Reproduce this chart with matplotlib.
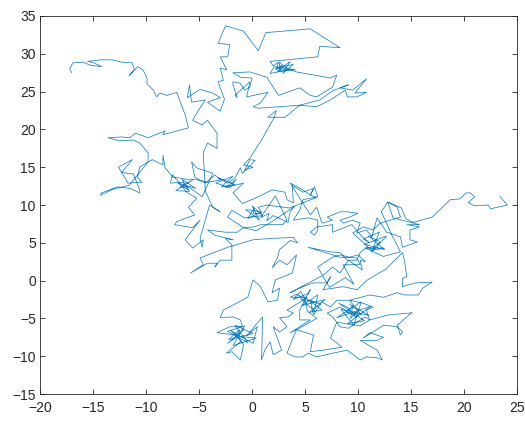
import matplotlib
matplotlib.use("Agg")
import matplotlib.pyplot as plt
import numpy as np

# 2-D walk, stored in stretches that follow each other along the path
arc_upper_left = [
    (-17.0, 27.5), (-17.2, 28.0), (-16.9, 28.8), (-15.9, 28.9), (-15.3, 28.5),
    (-14.2, 28.3), (-14.9, 28.8), (-15.5, 29.0), (-14.3, 29.2), (-13.2, 29.2),
    (-12.3, 28.9), (-11.3, 28.8), (-11.1, 27.9), (-11.6, 27.1), (-10.8, 28.3),
    (-10.3, 27.9), (-9.9, 26.8), (-9.9, 26.0), (-9.3, 25.2), (-9.0, 24.3),
    (-8.7, 24.8), (-8.0, 24.5), (-7.1, 24.9), (-6.7, 23.4), (-6.3, 21.9),
    (-6.0, 20.2),
]

left_band = [
    (-8.4, 19.3), (-8.2, 19.8), (-9.8, 18.9), (-11.0, 19.5), (-11.5, 18.9),
    (-12.3, 19.0), (-13.6, 18.9), (-12.5, 18.5), (-11.2, 18.6), (-10.6, 18.2),
    (-9.8, 16.9), (-9.8, 15.7), (-10.6, 15.0), (-10.8, 13.7), (-10.4, 13.0),
    (-11.7, 12.9), (-12.0, 13.6), (-12.6, 15.0), (-11.3, 16.0), (-12.3, 14.3),
    (-11.2, 14.1), (-10.6, 12.0), (-10.6, 11.6), (-11.5, 12.2), (-12.7, 12.4),
    (-14.2, 11.6), (-14.3, 11.3), (-13.1, 12.1), (-11.6, 12.6), (-10.5, 14.5),
    (-9.8, 15.7), (-9.4, 16.0), (-8.4, 15.3), (-8.4, 16.6), (-8.2, 14.9),
    (-8.0, 14.6), (-7.5, 13.7), (-6.1, 13.4), (-5.4, 13.4), (-4.2, 13.0),
    (-3.0, 13.3),
]

mid_left = [
    (-3.5, 14.0), (-4.4, 12.9), (-5.4, 13.7), (-5.7, 15.7), (-5.2, 14.9),
    (-3.7, 14.2), (-4.7, 11.1), (-6.0, 12.4), (-6.8, 12.4), (-5.6, 13.3),
    (-7.2, 11.9), (-5.9, 11.8), (-6.6, 13.4), (-5.3, 12.2), (-7.0, 12.9),
    (-6.0, 12.0), (-6.5, 13.0), (-7.7, 12.9), (-7.5, 14.0), (-6.1, 11.6),
    (-5.2, 10.9), (-6.0, 9.7), (-5.4, 8.7), (-7.1, 7.8), (-7.3, 7.4),
    (-5.6, 7.0), (-4.9, 8.0), (-6.3, 5.4), (-5.6, 4.3), (-4.6, 5.4),
    (-4.7, 4.4), (-4.9, 5.6), (-4.0, 10.0), (-3.0, 9.1), (-3.7, 9.7),
    (-4.4, 11.8), (-4.6, 16.9), (-4.2, 18.2), (-3.3, 17.5), (-3.3, 19.5),
    (-4.2, 21.2), (-4.7, 20.6), (-5.6, 21.2), (-5.2, 22.2), (-4.4, 23.9),
    (-5.7, 23.6), (-5.9, 25.9), (-6.1, 24.2), (-4.9, 25.3), (-3.7, 24.8),
    (-3.0, 24.2), (-4.2, 23.6), (-3.0, 22.4), (-2.6, 24.0), (-3.2, 26.3),
]

top_cluster = [
    (-2.7, 26.5), (-3.0, 28.1), (-2.4, 27.9), (-3.0, 29.6), (-2.3, 29.6),
    (-2.1, 31.2), (-3.2, 31.4), (-2.5, 33.7), (-0.8, 33.0), (0.6, 30.4),
    (1.3, 32.8), (5.5, 33.3), (7.4, 31.6), (8.3, 30.8), (6.4, 31.0),
    (6.2, 29.6), (3.3, 29.2), (1.7, 29.0), (2.0, 28.4), (2.5, 28.9),
    (2.3, 27.9), (2.8, 28.5), (2.6, 27.6), (2.6, 28.9), (3.4, 27.9),
    (2.2, 28.1), (3.9, 28.6), (2.9, 27.4), (3.6, 29.0), (2.4, 27.7),
    (4.1, 27.9), (2.1, 28.3), (1.7, 27.4), (3.6, 27.9), (4.2, 27.6),
    (7.4, 26.8), (8.0, 27.2), (7.6, 25.6), (6.1, 24.3), (5.5, 24.5),
    (4.5, 25.5), (2.5, 24.5), (1.4, 26.9), (-0.2, 27.6), (-1.8, 27.5),
    (-1.1, 26.9), (0.0, 26.8), (-0.2, 25.6), (-0.7, 25.2), (-1.1, 26.1),
    (-1.8, 26.3), (-1.8, 25.9), (-1.4, 24.2), (-1.6, 24.5), (-0.2, 26.3),
    (-0.5, 24.3), (1.5, 24.9), (0.8, 23.5), (0.1, 23.0), (0.6, 22.8),
    (2.6, 23.0), (4.5, 23.2), (6.1, 23.0), (7.4, 23.9), (8.8, 25.2),
    (9.0, 24.3), (9.9, 24.3), (10.8, 24.9), (9.7, 24.8), (10.8, 26.7),
    (9.5, 25.2), (8.3, 25.5), (9.1, 25.9), (7.6, 25.1), (6.4, 23.9),
    (4.5, 23.2), (3.1, 21.6), (1.5, 21.6), (2.3, 22.5), (2.1, 21.6),
    (0.9, 18.6), (-0.2, 16.2), (-0.8, 15.3),
]

mid_centre = [
    (0.1, 15.0), (-0.7, 14.6), (-0.2, 16.0), (0.3, 15.9), (-0.9, 14.2),
    (-1.1, 14.9), (-1.6, 13.6), (-2.3, 12.9), (-2.8, 13.3), (-3.2, 13.6),
    (-1.6, 12.7), (-2.9, 12.4), (-1.8, 13.8), (-3.4, 12.9), (-2.1, 12.3),
    (-1.5, 13.4), (-2.5, 12.3), (-0.8, 12.9), (-1.8, 11.6), (-0.9, 10.2),
    (0.3, 10.9), (1.9, 12.0), (3.1, 11.7), (3.3, 10.7), (3.9, 10.3),
    (3.8, 12.6), (4.8, 11.7), (5.8, 12.2), (5.5, 11.3), (6.1, 11.0),
    (3.5, 9.6), (1.4, 10.0), (0.6, 9.7), (0.9, 8.9), (0.1, 8.9),
    (0.2, 9.6), (-0.4, 8.2), (0.9, 9.1), (-0.6, 9.4), (0.7, 8.0),
    (0.0, 9.9), (1.0, 8.6), (-0.7, 8.3), (-1.9, 9.3), (-2.3, 8.4),
    (-0.8, 7.0), (0.1, 7.1), (0.9, 7.4), (2.9, 7.4), (3.3, 8.0),
    (2.2, 11.2), (0.8, 8.3), (1.6, 8.9), (1.4, 7.9), (2.0, 8.6),
    (3.4, 7.7), (3.6, 9.1), (4.0, 9.8), (2.0, 7.9), (0.4, 6.6),
    (-0.8, 7.0),
]

mid_lower = [
    (-1.4, 6.4), (-2.5, 6.4), (-4.2, 6.7), (-3.5, 6.0), (-1.8, 5.4),
    (-2.5, 5.6), (-1.9, 4.7), (-1.9, 2.7), (-3.0, 2.7), (-3.5, 1.8),
    (-3.3, 2.3), (-4.2, 2.3), (-5.8, 1.0), (-4.6, 2.1), (-4.9, 3.0),
    (-2.3, 4.4), (0.1, 5.4), (2.0, 5.6), (3.9, 5.7), (4.3, 5.0),
    (3.6, 5.3), (2.6, 4.1), (2.4, 3.0), (1.9, 1.7), (2.6, 2.7),
    (3.3, 2.1), (4.2, 3.4), (3.8, 1.0), (2.2, 0.1), (1.9, -1.6),
    (2.6, -1.0), (2.4, -2.6), (1.5, -2.8), (0.8, -0.8), (0.1, 0.1),
    (-0.4, -2.2),
]

low_left = [
    (-2.7, -3.9), (-3.0, -4.9), (-1.8, -4.8), (-1.1, -5.2), (-0.9, -6.1),
    (-2.1, -6.1), (-3.3, -6.9), (-1.4, -7.2), (-0.8, -6.5), (-2.3, -8.3),
    (-1.5, -7.5), (-1.2, -6.5), (-2.2, -7.8), (0.1, -7.0), (-1.6, -5.9),
    (-0.4, -8.2), (-2.3, -6.7), (-0.7, -6.0), (-1.8, -8.6), (0.4, -7.6),
    (-1.1, -7.4), (-2.0, -6.6), (-1.0, -8.0), (-2.4, -9.6), (-1.9, -9.4),
    (-1.1, -10.5), (-0.8, -8.5), (-1.6, -7.0), (0.1, -8.3), (0.5, -6.1),
    (-0.5, -7.3), (1.0, -4.8), (0.9, -10.5), (1.2, -9.2), (1.7, -8.1),
    (2.0, -9.8), (2.8, -9.2), (2.0, -6.1), (2.6, -6.8), (3.3, -6.1),
    (2.6, -4.9), (3.4, -4.8), (3.9, -4.3), (3.3, -3.9), (4.8, -2.6),
    (5.2, -2.2), (3.6, -2.2), (4.2, -1.8), (5.0, -2.4), (4.6, -1.4),
    (3.9, -2.5), (5.3, -1.7), (5.5, -1.2), (4.5, -3.9), (4.5, -5.2),
    (5.5, -5.2), (3.6, -6.9), (4.2, -6.5), (3.6, -8.5), (3.3, -9.6),
    (4.1, -10.1), (4.8, -10.1), (5.3, -9.6),
]

low_right = [
    (6.1, -10.1), (7.6, -9.6), (9.0, -9.2), (10.2, -10.5), (10.8, -10.1),
    (11.8, -10.2), (12.3, -10.5), (11.8, -9.2), (10.2, -7.9), (11.8, -7.9),
    (12.4, -7.5), (11.1, -6.9), (10.5, -7.6), (12.4, -5.9), (13.7, -6.1),
    (14.0, -6.5), (14.2, -6.8), (14.0, -7.2), (13.7, -5.9), (15.1, -4.2),
    (14.9, -4.3), (13.0, -4.5), (11.1, -5.2), (10.7, -4.8), (9.9, -5.5),
    (9.1, -6.3), (8.3, -6.1), (7.6, -4.8), (7.1, -4.3), (8.3, -3.5),
    (9.8, -4.8), (9.0, -3.5), (8.2, -3.0), (10.6, -5.3), (9.0, -5.7),
    (11.2, -3.4), (8.0, -4.9), (10.3, -2.8), (9.6, -5.9), (8.4, -3.8),
    (11.0, -4.6), (9.2, -3.1), (10.0, -3.9), (9.3, -5.0), (9.5, -3.3),
    (8.9, -4.2), (10.3, -4.5), (9.2, -2.6), (10.5, -3.0), (11.4, -3.5),
    (10.8, -3.9), (11.1, -5.2), (10.2, -6.0), (8.0, -5.5), (7.4, -7.6),
    (8.5, -8.8), (6.7, -9.2), (5.5, -9.4), (5.8, -7.2), (4.2, -6.5),
    (6.1, -5.0), (5.2, -4.0), (5.0, -2.2), (6.6, -3.9), (5.4, -4.2),
    (6.9, -2.5), (4.7, -3.3), (6.2, -1.9), (5.9, -4.0), (4.6, -2.4),
    (6.5, -3.1), (5.5, -2.6), (5.8, -4.5), (6.6, -2.8), (7.4, -3.5),
    (8.0, -2.6), (9.2, -2.6), (11.1, -1.9), (12.4, -2.2), (13.7, -1.6),
    (14.4, -1.9), (15.7, -1.9), (16.1, -1.0), (17.0, -0.2), (15.4, -0.3),
    (14.2, -0.8),
]

low_upper = [
    (14.2, 0.3), (14.6, 0.5), (14.4, 2.5), (14.2, 3.7), (12.6, 1.5),
    (10.9, 0.1), (9.9, -1.2), (8.6, -0.8), (6.7, -1.2), (7.4, 0.5),
    (7.1, -0.3), (5.8, -0.3), (4.8, -0.8), (3.6, -1.6), (6.7, 0.7),
    (7.6, 1.8), (8.3, 1.0), (9.1, 2.7), (10.4, 1.4), (10.2, 2.7),
    (10.7, 2.5), (10.0, 3.4), (9.2, 3.1), (8.3, 3.4), (7.6, 3.1),
    (6.2, 1.8), (7.3, -0.9), (8.8, 0.4), (9.6, -0.5), (8.6, 2.1),
    (10.2, 2.1), (9.9, 3.0), (8.3, 3.1),
]

mid_right = [
    (5.3, 4.4), (7.4, 3.8), (8.3, 3.7), (9.0, 2.7), (9.9, 2.7),
    (10.2, 3.7), (10.8, 4.4), (11.4, 4.3), (12.1, 5.1), (11.0, 5.9),
    (12.5, 4.1), (10.6, 4.8), (12.7, 5.9), (11.3, 3.8), (12.0, 6.4),
    (10.5, 5.5), (11.1, 5.0), (10.4, 5.8), (9.4, 7.4), (7.6, 6.4),
    (7.6, 7.4), (6.1, 7.1), (5.5, 6.4), (5.9, 6.0), (6.2, 6.7),
    (6.2, 8.0), (5.3, 8.3), (3.9, 8.0), (4.5, 9.3), (4.8, 10.7),
    (6.2, 11.1), (5.9, 12.4), (5.5, 11.3), (4.8, 12.0), (3.6, 12.9),
    (5.5, 8.7), (6.1, 9.7), (6.6, 7.6), (7.6, 8.0), (7.1, 8.4),
    (8.3, 9.1), (9.0, 9.1), (10.0, 8.9), (9.2, 8.4), (8.3, 8.0),
    (8.6, 7.6), (9.5, 8.0), (10.2, 7.6), (9.9, 6.3), (10.8, 6.7),
    (11.3, 5.8), (11.8, 8.3), (12.7, 6.4), (14.0, 5.8), (14.2, 4.4),
    (15.6, 5.1), (14.9, 5.4), (14.9, 6.7), (15.8, 7.1), (14.6, 7.4),
    (15.8, 7.4), (13.3, 8.3), (12.8, 10.4), (13.7, 9.7), (14.0, 8.4),
    (12.1, 7.6), (11.4, 6.7), (10.5, 7.1), (9.5, 6.3), (11.3, 4.0),
    (12.5, 4.3), (10.7, 4.3), (12.4, 3.2), (14.0, 3.8), (13.2, 6.0),
    (12.2, 9.1), (12.8, 10.4),
]

tail_right = [
    (14.1, 9.6), (14.5, 8.2), (15.2, 7.7), (17.0, 8.4), (18.7, 10.7),
    (19.6, 10.8), (20.2, 11.6), (20.6, 11.6), (21.0, 11.1), (20.4, 10.3),
    (21.0, 9.9), (22.3, 10.0), (22.5, 9.5), (24.1, 10.0), (23.4, 11.1),
]

x_ticks = np.arange(-20, 26, 5)
y_ticks = np.arange(-15, 36, 5)

walk = np.array(arc_upper_left + left_band + mid_left + top_cluster + mid_centre
                + mid_lower + low_left + low_right + low_upper + mid_right
                + tail_right)

plt.rcParams['font.family'] = ['Liberation Sans', 'DejaVu Sans']

fig = plt.figure(figsize=(5.25, 4.21), dpi=100)
ax = fig.add_axes([0.0762, 0.0641, 0.9086, 0.8979])

ax.plot(walk[:, 0], walk[:, 1], color='#1582c8', linewidth=0.55)

ax.set_xlim(-20, 25)
ax.set_ylim(-15, 35)
ax.set_xticks(x_ticks)
ax.set_yticks(y_ticks)

edge = '#262626'
for side in ax.spines.values():
    side.set_color(edge)
    side.set_linewidth(0.6)
ax.tick_params(direction='in', length=3.5, width=0.6, color=edge,
               labelcolor=edge, labelsize=10, top=True, right=True)
ax.tick_params(axis='y', pad=3)
ax.tick_params(axis='x', pad=5)

fig.savefig('out.png', dpi=100)
